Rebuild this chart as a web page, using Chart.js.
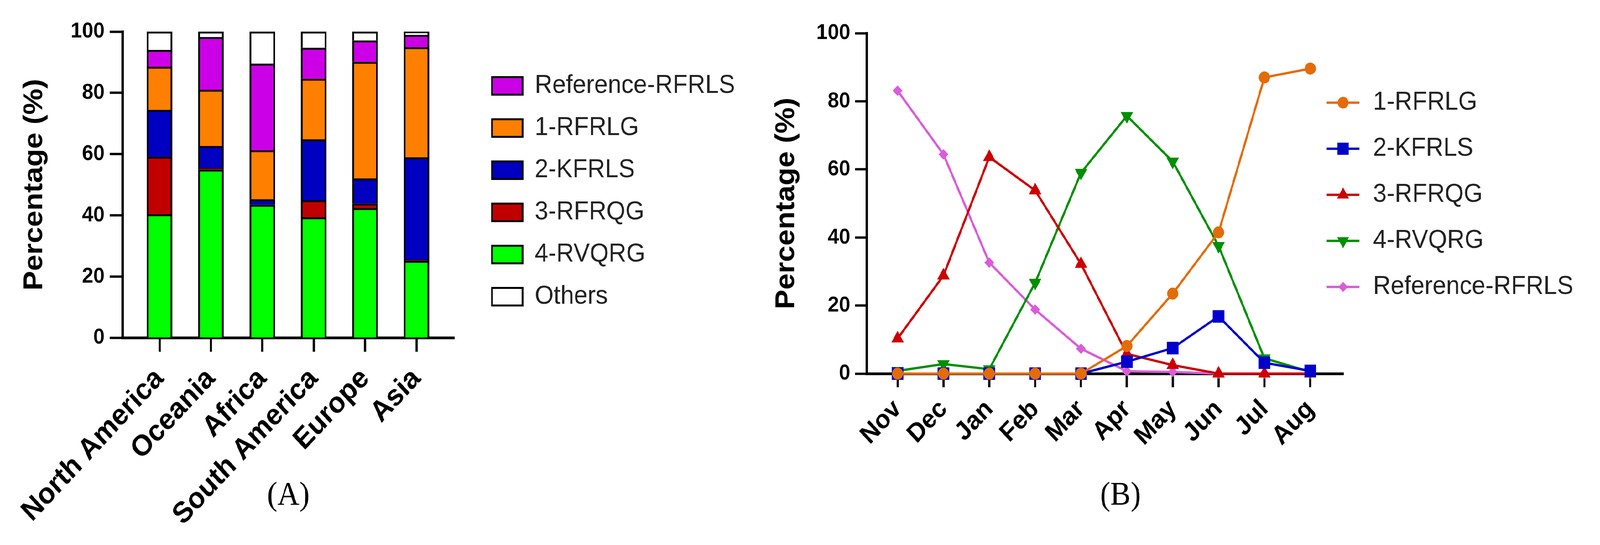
<!DOCTYPE html>
<html>
<head>
<meta charset="utf-8">
<script src="https://cdn.jsdelivr.net/npm/chart.js@4/dist/chart.umd.min.js"></script>
<style>
  html, body { margin: 0; padding: 0; background: #fff; overflow: hidden; }
  #page { position: relative; width: 4403px; height: 1396px; background: #fff; transform-origin: 0 0; }
  canvas { position: absolute; top: 0; }
  #chartA { left: 0; }
  #chartB { left: 2080px; }
</style>
</head>
<body>
<div id="page">
  <canvas id="chartA" width="2080" height="1396" style="width:2080px;height:1396px"></canvas>
  <canvas id="chartB" width="2323" height="1396" style="width:2323px;height:1396px"></canvas>
</div>
<script>
// Panel A: share of each group per region (%), stacked bottom to top
const regions = ['North America', 'Oceania', 'Africa', 'South America', 'Europe', 'Asia'];
const rvqrg4 = [40.3, 54.9, 43.4, 39.3, 42.3, 25.1];
const rfrqg3 = [18.8, 0.5, 0.0, 5.6, 1.5, 0.4];
const kfrls2 = [15.3, 7.2, 1.8, 19.9, 8.2, 33.4];
const rfrlg1 = [14.1, 18.4, 16.0, 19.8, 38.1, 36.0];
const refRfrls = [5.5, 17.2, 28.3, 10.1, 7.0, 4.0];
const others = [6.0, 1.8, 10.5, 5.3, 2.9, 1.1];

// Panel B: monthly share of each group (%)
const months = ['Nov', 'Dec', 'Jan', 'Feb', 'Mar', 'Apr', 'May', 'Jun', 'Jul', 'Aug'];
const lineRfrlg1 = [0, 0, 0, 0, 0, 8.1, 23.5, 41.5, 87.0, 89.6];
const lineKfrls2 = [0, 0, 0, 0, 0, 3.5, 7.5, 16.8, 3.2, 0.8];
const lineRfrqg3 = [10.3, 28.8, 63.6, 53.8, 32.2, 5.8, 2.5, 0, 0, 0];
const lineRvqrg4 = [0.8, 2.8, 1.3, 26.7, 59.0, 75.7, 62.3, 37.5, 4.5, 0.5];
const lineRef = [83.1, 64.4, 32.6, 18.8, 7.3, 0.7, 0.5, 0, 0, 0];

const percentTicks = [0, 20, 40, 60, 80, 100];

const SANS = "'Liberation Sans', Arial, sans-serif";
const SERIF = "'Liberation Serif', 'Times New Roman', serif";

// The figure is laid out on a 4403x1396 grid; stretch it onto the real viewport
const scaleX = window.innerWidth / 4403;
const scaleY = window.innerHeight / 1396;
document.getElementById('page').style.transform = 'scale(' + scaleX + ',' + scaleY + ')';
const pixelRatio = window.devicePixelRatio || 1;

// Move the legend to a fixed spot (first row centre / first box left)
// and widen its clip box so the labels are not cut off
const legendShift = {
    id: 'legendShift',
    afterLayout(chart, args, opts) {
        const L = chart.legend;
        if (!L) return;
        const pad = L.options.labels.padding;
        const dx = opts.x - (L.left + pad);
        const dy = opts.y - (L.top + pad + opts.itemH / 2);
        L.left += dx;
        L.top += dy;
        L.right = chart.width;
        L.bottom = chart.height;
    }
};

function toPoints(values) {
    return values.map((v, i) => ({ x: i, y: v }));
}

function yAxis(width, tickLen, tickPad, titlePad) {
    return {
        min: 0,
        max: 100,
        afterBuildTicks: axis => { axis.ticks = percentTicks.map(v => ({ value: v })); },
        afterFit: scale => { scale.width = width; },
        border: { display: true, color: '#000', width: 7 },
        grid: { drawOnChartArea: false, drawTicks: true, tickLength: tickLen, tickWidth: 6, tickColor: '#000' },
        ticks: { color: '#000', padding: tickPad, font: { family: SANS, size: 56, weight: 'bold' } },
        title: {
            display: true,
            text: 'Percentage (%)',
            color: '#000',
            padding: { top: titlePad, bottom: 0 },
            font: { family: SANS, size: 75, weight: 'bold', lineHeight: 1 }
        }
    };
}

function xAxis(labels, min, max, height, tickLen, tickPad, fontSize, title) {
    return {
        type: 'linear',
        min: min,
        max: max,
        offset: false,
        afterBuildTicks: axis => { axis.ticks = labels.map((_, i) => ({ value: i })); },
        afterFit: scale => { scale.height = height; },
        border: { display: true, color: '#000', width: 7 },
        grid: { offset: false, drawOnChartArea: false, drawTicks: true, tickLength: tickLen, tickWidth: 6, tickColor: '#000' },
        ticks: {
            autoSkip: false,
            maxRotation: 45,
            minRotation: 45,
            padding: tickPad,
            color: '#000',
            font: { family: SANS, size: fontSize, weight: 'bold' },
            callback: v => labels[v] !== undefined ? labels[v] : ''
        },
        title: {
            display: true,
            text: title,
            color: '#000',
            padding: { top: 0, bottom: 83 },
            font: { family: SERIF, size: 84, lineHeight: 1 }
        }
    };
}

// Chart A - stacked bars
const barColors = ['#00FF00', '#C00000', '#0000C0', '#FF8000', '#CC00E6', '#FFFFFF'];
const barNames = ['4-RVQRG', '3-RFRQG', '2-KFRLS', '1-RFRLG', 'Reference-RFRLS', 'Others'];
const barSeries = [rvqrg4, rfrqg3, kfrls2, rfrlg1, refRfrls, others];

new Chart(document.getElementById('chartA'), {
    type: 'bar',
    data: {
        datasets: barSeries.map((s, i) => ({
            label: barNames[i],
            data: toPoints(s),
            backgroundColor: barColors[i],
            borderColor: '#000',
            borderWidth: 5,
            barThickness: 70
        }))
    },
    options: {
        responsive: false,
        animation: false,
        devicePixelRatio: pixelRatio,
        layout: { padding: { left: 0, top: 81, right: 413, bottom: 0 } },
        scales: {
            x: Object.assign(xAxis(regions, -0.722, 5.737, 531, 36, 25, 75, '(A)'), { stacked: true }),
            y: Object.assign(yAxis(337, 35, 14, 58), { stacked: true })
        },
        plugins: {
            tooltip: { enabled: false },
            legendShift: { x: 1354, y: 220, itemH: 67 },
            legend: {
                position: 'right',
                align: 'start',
                labels: {
                    boxWidth: 84,
                    boxHeight: 45,
                    padding: 41,
                    color: '#222',
                    font: { family: SANS, size: 67 },
                    sort: (a, b) => {
                        const rank = it => it.datasetIndex === 5 ? 99 : -it.datasetIndex;
                        return rank(a) - rank(b);
                    }
                }
            }
        }
    },
    plugins: [legendShift]
});

// Chart B - lines with markers
const lineNames = ['1-RFRLG', '2-KFRLS', '3-RFRQG', '4-RVQRG', 'Reference-RFRLS'];
const lineSeries = [lineRfrlg1, lineKfrls2, lineRfrqg3, lineRvqrg4, lineRef];
const lineColors = ['#E36C0A', '#0000CC', '#CC0000', '#008F00', '#DA5CDA'];
const markerStyles = ['circle', 'rect', 'triangle', 'triangle', 'rectRot'];
const markerRadius = [15, 22, 19, 19, 13];
const markerRotation = [0, 0, 0, 180, 0];

function drawMarker(ctx, style, r, rot, x, y) {
    const rad = rot * Math.PI / 180;
    ctx.beginPath();
    if (style === 'circle') {
        ctx.arc(x, y, r, 0, Math.PI * 2);
    } else if (style === 'rect') {
        const s = Math.SQRT1_2 * r;
        ctx.rect(x - s, y - s, 2 * s, 2 * s);
    } else if (style === 'rectRot') {
        ctx.moveTo(x, y - r); ctx.lineTo(x + r, y); ctx.lineTo(x, y + r); ctx.lineTo(x - r, y);
    } else {
        let a = rad;
        ctx.moveTo(x + Math.sin(a) * r, y - Math.cos(a) * r);
        a += 2 * Math.PI / 3;
        ctx.lineTo(x + Math.sin(a) * r, y - Math.cos(a) * r);
        a += 2 * Math.PI / 3;
        ctx.lineTo(x + Math.sin(a) * r, y - Math.cos(a) * r);
    }
    ctx.closePath();
    ctx.fill();
}

// Legend symbol: a short line with the marker in its middle
function legendIcon(i) {
    const c = document.createElement('canvas');
    c.width = 90;
    c.height = 48;
    const ctx = c.getContext('2d');
    ctx.strokeStyle = lineColors[i];
    ctx.fillStyle = lineColors[i];
    ctx.lineWidth = 6;
    ctx.beginPath();
    ctx.moveTo(0, 24);
    ctx.lineTo(90, 24);
    ctx.stroke();
    drawMarker(ctx, markerStyles[i], markerRadius[i], markerRotation[i], 45, 24);
    return c;
}
const legendIcons = lineNames.map((_, i) => legendIcon(i));

new Chart(document.getElementById('chartB'), {
    type: 'line',
    data: {
        datasets: lineSeries.map((s, i) => ({
            label: lineNames[i],
            data: toPoints(s),
            borderColor: lineColors[i],
            backgroundColor: lineColors[i],
            borderWidth: 6,
            tension: 0,
            clip: false,
            pointStyle: markerStyles[i],
            pointRadius: markerRadius[i],
            pointRotation: markerRotation[i],
            pointBorderWidth: 1,
            pointBorderColor: lineColors[i],
            pointBackgroundColor: lineColors[i]
        }))
    },
    options: {
        responsive: false,
        animation: false,
        devicePixelRatio: pixelRatio,
        layout: { padding: { left: 0, top: 85, right: 166, bottom: 0 } },
        scales: {
            x: xAxis(months, -0.674, 9.729, 439, 35, 17, 67, '\u00A0\u00A0\u00A0\u00A0(B)'),
            y: yAxis(305, 32, 13, 47)
        },
        plugins: {
            tooltip: { enabled: false },
            legendShift: { x: 1567, y: 263, itemH: 67 },
            legend: {
                position: 'right',
                align: 'start',
                labels: {
                    usePointStyle: true,
                    pointStyleWidth: 98,
                    boxHeight: 67,
                    padding: 51,
                    color: '#222',
                    font: { family: SANS, size: 67 },
                    generateLabels: chart => {
                        const items = Chart.defaults.plugins.legend.labels.generateLabels(chart);
                        items.forEach(it => {
                            it.pointStyle = legendIcons[it.datasetIndex];
                            it.rotation = 0;
                        });
                        return items;
                    }
                }
            }
        }
    },
    plugins: [legendShift]
});
</script>
</body>
</html>
